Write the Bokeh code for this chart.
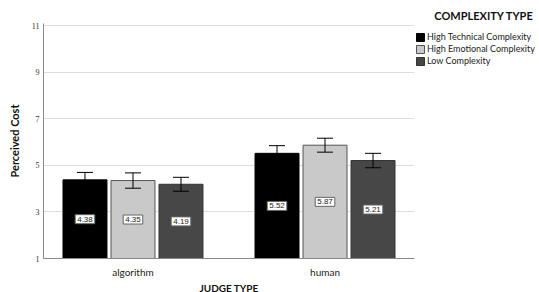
from bokeh.plotting import figure
from bokeh.models import (FactorRange, ColumnDataSource, Whisker, FixedTicker, Legend,
                          LegendItem, Range1d)
from bokeh.transform import dodge
from bokeh.core.properties import value
from bokeh.embed import file_html
from bokeh.resources import INLINE

judges = ["algorithm", "human"]
complexity = ["High Technical Complexity", "High Emotional Complexity", "Low Complexity"]
means_tech = [4.38, 5.52]
means_emo = [4.35, 5.87]
means_low = [4.19, 5.21]
err_tech = [0.32, 0.33]
err_emo = [0.33, 0.30]
err_low = [0.30, 0.31]
y_ticks = [1, 3, 5, 7, 9, 11]

series = [(complexity[0], means_tech, err_tech, "#000000", "#000000"),
          (complexity[1], means_emo, err_emo, "#c9c9c9", "#555555"),
          (complexity[2], means_low, err_low, "#474747", "#333333")]
offsets = [-0.25, 0.0, 0.25]
bar_w = 0.229

FONT = "Lato"

xr = FactorRange(*judges, range_padding=-0.034, range_padding_units="absolute")
p = figure(x_range=xr, y_range=Range1d(1, 11.1),
           width=531, height=290, frame_width=371, frame_height=235,
           min_border_left=43, min_border_right=117, min_border_top=23, min_border_bottom=32,
           output_backend="svg", toolbar_location=None)
p.outline_line_color = None
p.background_fill_color = "white"

p.title.text = "COMPLEXITY TYPE"
p.title.align = "right"
p.title.offset = -119
p.title.text_font = FONT
p.title.text_font_style = "bold"
p.title.text_font_size = "11px"
p.title.text_color = "#111111"
p.title.standoff = 3

items = []
for (name, means, errs, fill, line), off in zip(series, offsets):
    src = ColumnDataSource(dict(
        judge=judges, mean=means,
        upper=[m + e for m, e in zip(means, errs)],
        lower=[m - e for m, e in zip(means, errs)],
        mid=[(1 + m) / 2 for m in means],
        txt=["%.2f" % m for m in means]))
    x = dodge("judge", off, range=p.x_range)
    r = p.vbar(x=x, top="mean", bottom=1, width=bar_w, source=src,
               fill_color=fill, line_color=line, line_width=1)
    items.append(LegendItem(label=name, renderers=[r]))
    w = Whisker(base=x, upper="upper", lower="lower", source=src,
                line_color="#000000", line_width=1, level="overlay")
    w.upper_head.size = 16
    w.lower_head.size = 16
    w.upper_head.line_color = "#000000"
    w.lower_head.line_color = "#000000"
    p.add_layout(w)
    p.text(x=x, y="mid", text="txt", source=src, text_align="center",
           text_baseline="middle", text_font=value("Liberation Sans"),
           text_font_size="8px", text_color="#222222",
           background_fill_color="white", border_line_color="#666666",
           padding=2)

legend = Legend(items=items, location=(1, 192), orientation="vertical",
                label_text_font=FONT, label_text_font_size="9px", label_text_color="#222222",
                glyph_width=10, glyph_height=10, label_height=10, label_standoff=2,
                spacing=1, padding=0, margin=0, border_line_alpha=0,
                background_fill_alpha=0)
p.add_layout(legend, "right")

p.yaxis.ticker = FixedTicker(ticks=y_ticks)
p.yaxis.major_tick_out = 0
p.yaxis.major_tick_in = 0
p.yaxis.minor_tick_out = 0
p.yaxis.minor_tick_in = 0
p.yaxis.axis_line_color = "#888888"
p.yaxis.major_label_text_font = "Liberation Serif"
p.yaxis.major_label_text_font_size = "8px"
p.yaxis.major_label_text_color = "#333333"
p.yaxis.major_label_standoff = 4
p.yaxis.axis_label = "Perceived Cost"
p.yaxis.axis_label_text_font = FONT
p.yaxis.axis_label_text_font_style = "bold"
p.yaxis.axis_label_text_font_size = "11px"
p.yaxis.axis_label_text_color = "#111111"
p.yaxis.axis_label_standoff = 8

p.xaxis.major_tick_out = 0
p.xaxis.major_tick_in = 0
p.xaxis.axis_line_color = "#888888"
p.xaxis.major_label_text_font = FONT
p.xaxis.major_label_text_font_size = "10px"
p.xaxis.major_label_text_color = "#222222"
p.xaxis.major_label_standoff = 7
p.xaxis.axis_label = "JUDGE TYPE"
p.xaxis.axis_label_text_font = FONT
p.xaxis.axis_label_text_font_style = "bold"
p.xaxis.axis_label_text_font_size = "10px"
p.xaxis.axis_label_text_color = "#111111"
p.xaxis.axis_label_standoff = 1

p.xgrid.grid_line_color = None
p.ygrid.grid_line_color = "#dddddd"
p.ygrid.ticker = FixedTicker(ticks=y_ticks[1:])

open("out.html", "w").write(file_html(p, INLINE))
